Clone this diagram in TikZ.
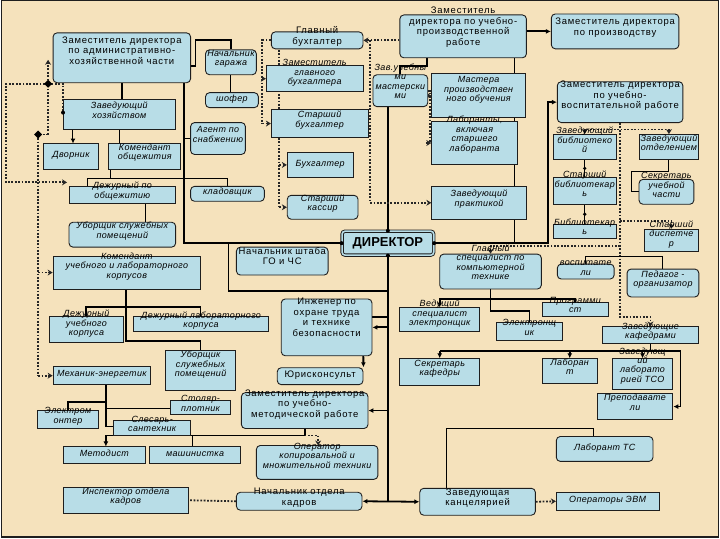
\documentclass[tikz,border=0pt]{standalone}
\usepackage{fontspec}
\setmainfont{Liberation Sans}
\newfontfamily\spacedfont[LetterSpace=8]{Liberation Sans}
\newfontfamily\spit[LetterSpace=4]{Liberation Sans}
\usetikzlibrary{arrows.meta}
\definecolor{bgc}{RGB}{245,226,188}
\definecolor{boxc}{RGB}{184,221,231}
\definecolor{edgec}{RGB}{30,30,30}
\pgfdeclarelayer{bgl}
\pgfdeclarelayer{lines}
\pgfsetlayers{bgl,lines,main}
\tikzset{
  nb/.style={draw=edgec, fill=boxc, line width=0.9pt, inner xsep=1pt, inner ysep=0pt, align=center,
             font=\spit\itshape\fontsize{9}{9.5}\selectfont},
  rb/.style={nb, rounded corners=4pt},
  rn/.style={rb, font=\spacedfont\fontsize{9.5}{10.5}\selectfont},
  i1/.style={text height=2.25pt, text depth=-2.25pt},
  i2/.style={text height=7pt, text depth=-7pt},
  i3/.style={text height=11.75pt, text depth=-11.75pt},
  i4/.style={text height=16.5pt, text depth=-16.5pt},
  u1/.style={text height=2.4pt, text depth=-2.4pt},
  u2/.style={text height=7.6pt, text depth=-7.6pt},
  u3/.style={text height=12.9pt, text depth=-12.9pt},
  u4/.style={text height=18.1pt, text depth=-18.1pt},
  dirst/.style={draw=edgec, fill=boxc, line width=0.9pt, double=boxc, double distance=1.6pt,
             rounded corners=3pt, inner sep=1pt, font=\fontsize{13}{13}\selectfont\bfseries},
  thk/.style={draw=black, line width=1.8pt},
  thn/.style={draw=black, line width=1pt},
  dts/.style={draw=black!85, line width=1.8pt, dash pattern=on 1.8pt off 1.6pt},
  arr/.style={-{Latex[length=5pt,width=5pt]}},
  darr/.style={-{Stealth[length=5pt,width=6pt]}},
  darrb/.style={{Stealth[length=5pt,width=6pt]}-{Stealth[length=5pt,width=6pt]}},
  dbl/.style={{Latex[length=5pt,width=5pt]}-{Latex[length=5pt,width=5pt]}},
}
\begin{document}
\begin{tikzpicture}[x=1pt,y=-1pt]
\begin{pgfonlayer}{bgl}
\fill[bgc] (0,0) rectangle (720,540);
\draw[edgec, line width=1pt] (0.5,0.5) rectangle (719.5,539.5);
\draw[edgec, line width=2.5pt] (0,538.7) -- (720,538.7);
\end{pgfonlayer}
\useasboundingbox (0,0) rectangle (720,540);

% ---------- left column ----------
\node[rn, u3, minimum width=138pt, minimum height=50pt] (zahch) at (121,58) {Заместитель директора\\по административно-\\хозяйственной части};
\node[rb, i2, minimum width=51pt, minimum height=25pt] (garage) at (230.5,62.5) {Начальник\\гаража};
\node[rb, i1, minimum width=53pt, minimum height=15pt] (shofer) at (231.5,100.5) {шофер};
\node[nb, i2, minimum width=113pt, minimum height=30pt] (zavhoz) at (118.5,115) {Заведующий\\хозяйством};
\node[rb, i2, minimum width=55pt, minimum height=32pt] (agent) at (217.5,139) {Агент по\\снабжению};
\node[nb, i1, minimum width=56pt, minimum height=26pt] (dvornik) at (70,157) {Дворник};
\node[nb, i2, minimum width=72pt, minimum height=26pt] (komobsh) at (144,157) {Комендант\\общежития};
\node[nb, i2, minimum width=107pt, minimum height=17pt] (dezhobsh) at (121.5,195.5) {Дежурный по\\общежитию};
\node[rb, i1, minimum width=74pt, minimum height=15pt] (kladov) at (227,194.5) {кладовщик};
\node[rb, i2, minimum width=107pt, minimum height=25pt] (uborsh1) at (121.5,235.5) {Уборщик служебных\\помещений};
\node[nb, i3, minimum width=148pt, minimum height=33pt] (komkorp) at (126,273.5) {Комендант\\учебного и лабораторного\\корпусов};
\node[nb, i3, minimum width=75pt, minimum height=26pt] (dezhuch) at (85.5,331) {Дежурный\\учебного\\корпуса};
\node[nb, i2, minimum width=135pt, minimum height=15pt] (dezhlab) at (200.5,325.5) {Дежурный лабораторного\\корпуса};
\node[nb, i3, minimum width=70pt, minimum height=40pt] (uborsh2) at (200,372) {Уборщик\\служебных\\помещений};
\node[nb, i1, minimum width=98pt, minimum height=18pt] (mehanik) at (101,377) {Механик-энергетик};
\node[nb, i2, minimum width=62pt, minimum height=18pt] (elmont) at (67,421) {Электром\\онтер};
\node[nb, i2, minimum width=77pt, minimum height=15pt] (slesar) at (151.5,429.5) {Слесарь-\\сантехник};
\node[nb, i2, minimum width=60pt, minimum height=14pt] (stolyar) at (200,409) {Столяр-\\плотник};
\node[nb, i1, minimum width=83pt, minimum height=17pt] (metodist) at (103.5,456.5) {Методист};
\node[nb, i1, minimum width=91pt, minimum height=17pt] (mashin) at (194.5,456.5) {машинистка};
\node[nb, i2, minimum width=126pt, minimum height=26pt] (inspektor) at (125,502) {Инспектор отдела\\кадров};

% ---------- centre ----------
\node[rn, u2, minimum width=92pt, minimum height=17pt] (glbuh) at (317,40.5) {Главный\\бухгалтер};
\node[nb, i3, minimum width=97pt, minimum height=26pt] (zamglbuh) at (314.5,79) {Заместитель\\главного\\бухгалтера};
\node[nb, i2, minimum width=97pt, minimum height=28pt] (stbuh) at (319.5,124) {Старший\\бухгалтер};
\node[nb, i1, minimum width=66pt, minimum height=25pt] (buh) at (320,165.5) {Бухгалтер};
\node[rb, i2, minimum width=71pt, minimum height=24pt] (stkassir) at (322.5,208) {Старший\\кассир};
\node[dirst, minimum width=92pt, minimum height=24pt] (director) at (388,244) {ДИРЕКТОР};
\node[rn, u2, minimum width=92pt, minimum height=28pt] (shtab) at (282,262) {Начальник штаба\\ГО и ЧС};
\node[rn, u4, minimum width=91pt, minimum height=57pt] (inzhener) at (326.5,328.5) {Инженер по\\охране труда\\и технике\\безопасности};
\node[rn, u1, minimum width=86pt, minimum height=17pt] (jurist) at (320,377.5) {Юрисконсульт};
\node[rn, u3, minimum width=127pt, minimum height=36pt] (zamumr) at (304.5,412) {Заместитель директора\\по учебно-\\методической работе};
\node[rb, i3, minimum width=122pt, minimum height=34pt] (operator) at (317,464) {Оператор\\копировальной и\\множительной техники};
\node[rn, u2, minimum width=126pt, minimum height=18pt] (nachkadr) at (299,503) {Начальник отдела\\кадров};
\node[rn, u2, minimum width=116pt, minimum height=27pt] (kanc) at (478,503.5) {Заведующая\\канцелярией};
\node[nb, i1, minimum width=103pt, minimum height=18pt] (evm) at (608.5,503) {Операторы ЭВМ};

% ---------- right ----------
\node[rn, u4, minimum width=127pt, minimum height=43pt] (zamupr) at (463.5,36.5) {Заместитель\\директора по учебно-\\производственной\\работе};
\node[rn, u2, minimum width=128pt, minimum height=35pt] (zamproizv) at (616,31.5) {Заместитель директора\\по производству};
\node[rb, i4, minimum width=55pt, minimum height=32pt] (zavmast) at (400.5,91) {Зав.учебны\\ми\\мастерски\\ми};
\node[nb, i3, minimum width=94pt, minimum height=44pt] (mastera) at (479,96) {Мастера\\производствен\\ного обучения};
\node[nb, i4, minimum width=86pt, minimum height=43pt] (laborant) at (475,143.5) {Лаборанты,\\включая\\старшего\\лаборанта};
\node[nb, i2, minimum width=95pt, minimum height=33pt] (zavprakt) at (479.5,203.5) {Заведующий\\практикой};
\node[rn, u3, minimum width=126pt, minimum height=41pt] (zamuvr) at (621,102.5) {Заместитель директора\\по учебно-\\воспитательной работе};
\node[nb, i3, minimum width=63pt, minimum height=25pt] (zavbibl) at (585.5,147.5) {Заведующий\\библиотеко\\й};
\node[nb, i2, minimum width=60pt, minimum height=25pt] (zavotd) at (670,147.5) {Заведующий\\отделением};
\node[nb, i3, minimum width=63pt, minimum height=27pt] (stbibl) at (585.5,191.5) {Старший\\библиотекар\\ь};
\node[rb, i3, minimum width=55pt, minimum height=25pt] (sekruch) at (667.5,192.5) {Секретарь\\учебной\\части};
\node[nb, i2, minimum width=63pt, minimum height=14pt] (bibl) at (585.5,232) {Библиотекар\\ь};
\node[nb, i3, minimum width=55pt, minimum height=22pt] (stdisp) at (672.5,241) {Старший\\диспетче\\р};
\node[rb, i4, minimum width=102pt, minimum height=35pt] (glspec) at (491,272.5) {Главный\\специалист по\\компьютерной\\технике};
\node[rb, i2, minimum width=57pt, minimum height=15pt] (vospit) at (586.5,272.5) {воспитате\\ли};
\node[rb, i2, minimum width=72pt, minimum height=28pt] (pedagog) at (664,284) {Педагог -\\организатор};
\node[nb, i2, minimum width=66pt, minimum height=15pt] (programmist) at (576,310.5) {Программи\\ст};
\node[nb, i3, minimum width=80pt, minimum height=24pt] (vedspec) at (440,321) {Ведущий\\специалист\\электронщик};
\node[nb, i2, minimum width=66pt, minimum height=18pt] (elektronshik) at (530,333) {Электронщ\\ик};
\node[nb, i2, minimum width=97pt, minimum height=17pt] (zavkaf) at (651.5,336.5) {Заведующие\\кафедрами};
\node[nb, i2, minimum width=80pt, minimum height=27pt] (sekrkaf) at (440,373.5) {Секретарь\\кафедры};
\node[nb, i2, minimum width=55pt, minimum height=25pt] (laborant2) at (570.5,372.5) {Лаборан\\т};
\node[nb, i4, minimum width=61pt, minimum height=31pt] (zavtso) at (643.5,375.5) {Заведующ\\ий\\лаборато\\рией ТСО};
\node[nb, i2, minimum width=76pt, minimum height=26pt] (prepod) at (636,408) {Преподавате\\ли};
\node[rb, i1, minimum width=97pt, minimum height=25pt] (labts) at (605.5,450.5) {Лаборант ТС};

\begin{pgfonlayer}{lines}
% main spine
\draw[thk] (director.north) -- (director.north |- zavmast.south);
\draw[thk] (director.south) -- (388,503);
\draw[thk] (director.west) -| (183,83);
\draw[thk] (183,139) -- (agent.west);
\draw[thk,arr] (director.east) -- (549,244) |- (zamuvr.west);
\draw[thk] (515,244) -- (515,58);
\draw[thk,arr] (zamupr.east |- zamproizv.west) -- (zamproizv.west);
\draw[thk] (427,58) -- (427,66) -| (zavmast.north);
% administrative part
\draw[thk] (190,66) -- (195,66) -- (195,40) -| (garage.north);
\draw[thn] (garage.south) -- (garage.south |- shofer.north);
\draw[thk] (zahch.south) -- (zahch.south |- zavhoz.north);
\draw[thn,arr] (72,130) -- (72,144);
\draw[thn] (zavhoz.south) -- (zavhoz.south |- komobsh.north);
\draw[thn] (110,170) -- (110,179);
\draw[thn] (87,187) |- (227,179) -- (227,187);
\draw[thn] (145,204) -- (145,223);
\draw[thk] (125,290) -- (125,342) -| (uborsh2.north);
\draw[thk] (85,318) |- (200,308) -- (200,318);
\draw[thk] (105,386) -- (105,428) -- (113,428);
\draw[thk] (67,412) |- (105,403);
\draw[thn] (105,410) -- (170,410);
% methodical
\draw[thk,arr] (388,412) -- (zamumr.east);
\draw[thk] (zamumr.south) -- (304.5,437) -- (105,437);
\draw[thk,arr] (105,437) -- (105,448);
\draw[thn] (192,437) -- (192,448);
\draw[dts,darr] (304.5,437) -- (318,437) -- (318,447);
\draw[thk,dbl] (nachkadr.east) -- (kanc.west);
\draw[dts] (nachkadr.west) -- (inspektor.east);
\draw[dts,darr] (kanc.east) -- (evm.west);
\draw[thn] (447,490) |- (594,430) -- (594,438);
% accountancy
\draw[dts] (glbuh.west) -- (262,40.5) -- (262,124);
\draw[dts,darr] (262,79) -- (zamglbuh.west);
\draw[dts,darr] (262,124) -- (stbuh.west);
\draw[dts] (279,50) -- (279,208);
\draw[dts,darr] (279,165.5) -- (buh.west);
\draw[dts,darr] (279,208) -- (stkassir.west);
\draw[dts,darr] (zamupr.west |- glbuh.east) -- (glbuh.east);
\draw[dts,darr] (370,40.5) -- (370,203.5) -- (zavprakt.west);
\draw[dts] (zavmast.east) -- (430,91) -- (430,143.5);
\draw[dts,darr] (426,96) -- (mastera.west);
\draw[dts,darr] (426,143.5) -- (laborant.west);
% educational work
\draw[dts,darr] (zamuvr.south) -- (621,318) -| (zavkaf.north);
\draw[dts,darrb] (zavbibl.north) |- (670,130) -- (zavotd.north);
\draw[dts,darr] (621,222) -| (stdisp.north);
\draw[dts,darr] (621,247) -| (glspec.north);
\draw[thn] (vospit.north) |- (664,257) -- (pedagog.north);
\draw[thn] (zavbibl.south) -- (stbibl.north);
\draw[thn] (stbibl.south) -- (bibl.north);
\draw[thn] (zavotd.south) -- (670,172) -| (632,192.5) -- (sekruch.west);
% computers
\draw[thk] (glspec.south) -- (491,300);
\draw[thk,arr] (491,300) -| (vedspec.north);
\draw[thk] (491,300) -| (programmist.north);
\draw[thk] (491,300) -- (491,312) -| (elektronshik.north);
% chairs
\draw[thk] (zavkaf.south) -- (651.5,352);
\draw[thk] (682,352) -- (440,352);
\draw[thk,arr] (440,352) -- (sekrkaf.north);
\draw[thk,arr] (570.5,352) -- (laborant2.north);
\draw[thk,arr] (643.5,352) -- (zavtso.north);
\draw[thn,arr] (682,352) |- (prepod.east);
% safety, lawyer, civil defence
\draw[thk,arr] (388,328.5) -- (inzhener.east);
\draw[thk,arr] (388,318) -- (363,318) -- (jurist.north east);
\draw[thk] (388,292) -- (228,292) -- (228,244);
% left dotted links
\draw[dts,darr] (47,84) -- (5,84) -- (5,183) -- (66,183);
\draw[dts,darr] (47,135) -- (47,60);
\draw[dts] (47,84) -- (62,84) -- (62,113);
\draw[dts] (47,135) -- (37,135) -- (37,377);
\draw[dts,darr] (37,273.5) -- (komkorp.west);
\draw[dts,darr] (37,377) -- (mehanik.west);
\end{pgfonlayer}

% markers
\fill (47,80) -- (51,84) -- (47,88) -- (43,84) -- cycle;
\fill (37,131) -- (41,135) -- (37,139) -- (33,135) -- cycle;
\fill (62,113) circle (2pt);
\fill (director.north) circle (2pt);
\fill (director.south) circle (2pt);
\fill (director.west) circle (2pt);
\fill (director.east) circle (2pt);
\fill (585.5,169) circle (1.8pt);
\fill (585.5,215) circle (1.8pt);
\end{tikzpicture}
\end{document}
